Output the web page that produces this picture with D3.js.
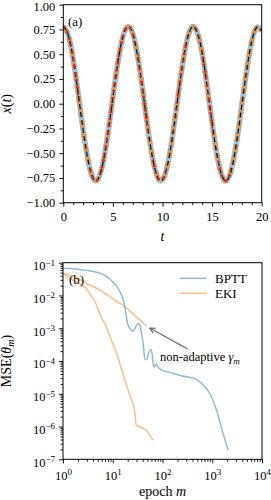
<!DOCTYPE html>
<html>
<head>
<meta charset="utf-8">
<script src="https://cdn.jsdelivr.net/npm/d3@7"></script>
<style>
  body { margin: 0; background: #fff; }
  svg { display: block; }
  text { font-family: "Liberation Serif", "DejaVu Serif", serif; fill: #000; }
</style>
</head>
<body>
<svg id="chart" width="271" height="500"></svg>
<script>
// ---- panel (a): trajectory, sampled every 0.5 in t ----
var tVals = [0,0.5,1,1.5,2,2.5,3,3.5,4,4.5,5,5.5,6,6.5,7,7.5,8,8.5,9,9.5,10,
             10.5,11,11.5,12,12.5,13,13.5,14,14.5,15,15.5,16,16.5,17,17.5,18,18.5,19,19.5,20];
var xVals = [0.780,0.692,0.448,0.103,-0.266,-0.575,-0.753,-0.762,-0.599,-0.301,0.065,
             0.416,0.674,0.779,0.708,0.478,0.139,-0.231,-0.549,-0.742,-0.769,
             -0.623,-0.336,0.028,0.383,0.654,0.776,0.721,0.508,0.175,-0.195,
             -0.521,-0.730,-0.774,-0.644,-0.369,-0.010,0.348,0.632,0.771,0.733];
// time windows where the observations (red dots) are shown
var obsWindows = [[0,1.6],[2.7,7.2],[7.5,8.6],[9.0,10.3],[11.3,12.4],[13.9,15.1],[15.6,16.9]];
var yTicksA = [-1,-0.75,-0.5,-0.25,0,0.25,0.5,0.75,1];
var xTicksA = [0,5,10,15,20];

// ---- panel (b): training loss ----
var bpttEpoch = [1,1.5,2.5,4,5.5,7,8.5,10,12,14,16,17.6,19.8,22,24,26,29,32.6,35,38,41,44.6,48,53,58.6,
                 62,66,70,74,78,85,100,150,250,416,610,898,1218,1658,2090];
var bpttMse = [6.8e-2,6.6e-2,6.0e-2,5.4e-2,4.8e-2,4.0e-2,3.3e-2,2.6e-2,1.9e-2,1.3e-2,7.9e-3,4.2e-3,1.45e-3,
               1.0e-3,8.5e-4,8.3e-4,1.12e-3,1.4e-3,1.26e-3,7.1e-4,3.2e-4,1.1e-4,1.12e-4,1.8e-4,2.2e-4,
               1.6e-4,7.1e-5,6.6e-5,7.9e-5,7.1e-5,6.0e-5,5.2e-5,4.4e-5,3.5e-5,3.0e-5,2.1e-5,1.0e-5,
               3.2e-6,6.0e-7,1.9e-7];
var ekiEpoch = [1,1.3,2,2.8,3.5,4.4,5,6,7,8.1,9,10.2,11.5,12.9,14,15,16.3,17,19,21,24,26,28,29.3,
                33,40,48,55,60.5,65];
var ekiMse = [4.8e-2,3.5e-2,2.4e-2,1.8e-2,1.1e-2,6.6e-3,4.0e-3,2.0e-3,1.4e-3,7.9e-4,5.0e-4,3.2e-4,
              2.0e-4,1.26e-4,7.9e-5,5.4e-5,4.0e-5,2.8e-5,1.9e-5,1.1e-5,6.6e-6,4.5e-6,2.6e-6,1.15e-6,
              1.0e-6,8.9e-7,7.6e-7,5.6e-7,4.4e-7,3.9e-7];
var ekiFixEpoch = [1,1.5,2,3,5,8,12,19,30,48];
var ekiFixMse = [4.8e-2,4.0e-2,3.3e-2,2.3e-2,1.6e-2,1.0e-2,6.6e-3,4.1e-3,2.2e-3,1.17e-3];
var decadesX = [1,10,100,1000,10000];
var decadesY = [1e-7,1e-6,1e-5,1e-4,1e-3,1e-2,1e-1];

var svg = d3.select("#chart");
var blue = "#1f77b4", orange = "#ff7f0e";

// ================= panel (a) =================
var A = {left: 63.3, right: 261.7, top: 4.7, bottom: 202.7};
var xA = d3.scaleLinear().domain([0, 20]).range([A.left, A.right]);
var yA = d3.scaleLinear().domain([-1, 1]).range([A.bottom, A.top]);

var gA = svg.append("g");
var defs = gA.append("defs");
defs.append("clipPath").attr("id", "clipA")
  .append("rect").attr("x", A.left).attr("y", A.top)
  .attr("width", A.right - A.left).attr("height", A.bottom - A.top);

var traj = tVals.map(function(t, i) { return {t: t, x: xVals[i]}; });
var lineA = d3.line().x(function(d) { return xA(d.t); }).y(function(d) { return yA(d.x); })
  .curve(d3.curveNatural);
var plotA = gA.append("g").attr("clip-path", "url(#clipA)");
plotA.append("path").attr("d", lineA(traj)).attr("fill", "none")
  .attr("stroke", blue).attr("stroke-opacity", 0.45).attr("stroke-width", 5.5);
plotA.append("path").attr("d", lineA(traj)).attr("fill", "none")
  .attr("stroke", orange).attr("stroke-opacity", 0.6).attr("stroke-width", 4.5)
  .attr("stroke-dasharray", "9,3");
plotA.append("path").attr("d", lineA(traj)).attr("fill", "none")
  .attr("stroke", "#111").attr("stroke-width", 1.3).attr("stroke-dasharray", "5,3");

// red observation dots on the same curve, restricted to the windows
obsWindows.forEach(function(w, i) {
  defs.append("clipPath").attr("id", "clipW" + i)
    .append("rect").attr("x", xA(w[0])).attr("y", A.top - 5)
    .attr("width", xA(w[1]) - xA(w[0])).attr("height", A.bottom - A.top + 10);
  plotA.append("g").attr("clip-path", "url(#clipW" + i + ")")
    .append("path").attr("d", lineA(traj)).attr("fill", "none")
    .attr("stroke", "#d62728").attr("stroke-width", 2.8)
    .attr("stroke-linecap", "round").attr("stroke-dasharray", "0,7");
});

// axes (a)
function fmtA(d) { return (d < 0 ? "\u2212" : "") + Math.abs(d).toFixed(2); }
var yAxisA = gA.append("g").attr("transform", "translate(" + A.left + ",0)")
  .call(d3.axisLeft(yA).tickValues(yTicksA).tickFormat(fmtA).tickSize(4).tickPadding(4));
// top label sits against the edge, as in the original; nudge it down slightly
yAxisA.selectAll(".tick text").filter(function(d) { return d === 1; }).attr("dy", "0.45em");
gA.append("g").attr("transform", "translate(" + A.left + ",0)")
  .call(d3.axisLeft(yA).tickValues(d3.range(-0.875, 1, 0.25)).tickFormat("").tickSize(2.5));
gA.append("g").attr("transform", "translate(0," + A.bottom + ")")
  .call(d3.axisBottom(xA).tickValues(xTicksA).tickFormat(d3.format("d")).tickSize(4).tickPadding(5));
gA.append("g").attr("transform", "translate(0," + A.bottom + ")")
  .call(d3.axisBottom(xA).tickValues(d3.range(0, 21).filter(function(d) { return d % 5; }))
  .tickFormat("").tickSize(2.5));
gA.append("rect").attr("x", A.left).attr("y", A.top)
  .attr("width", A.right - A.left).attr("height", A.bottom - A.top)
  .attr("fill", "none").attr("stroke", "#000").attr("stroke-width", 1);

gA.append("text").attr("x", 68).attr("y", 26).attr("font-size", 13).text("(a)");
gA.append("text").attr("x", (A.left + A.right) / 2).attr("y", 241).attr("text-anchor", "middle")
  .attr("font-size", 14).attr("font-style", "italic").text("t");
var ylabA = gA.append("text").attr("transform", "translate(11," + ((A.top + A.bottom) / 2) + ") rotate(-90)")
  .attr("text-anchor", "middle").attr("font-size", 14);
ylabA.append("tspan").attr("font-style", "italic").text("x");
ylabA.append("tspan").text("(");
ylabA.append("tspan").attr("font-style", "italic").text("t");
ylabA.append("tspan").text(")");

// ================= panel (b) =================
var B = {left: 63, right: 262, top: 262.7, bottom: 459.3};
var xB = d3.scaleLog().domain([1, 1e4]).range([B.left, B.right]);
var yB = d3.scaleLog().domain([1e-7, 1e-1]).range([B.bottom, B.top]);
var gB = svg.append("g");

var lineB = d3.line().x(function(d) { return xB(d[0]); }).y(function(d) { return yB(d[1]); });
var bptt = bpttEpoch.map(function(m, i) { return [m, bpttMse[i]]; });
var eki = ekiEpoch.map(function(m, i) { return [m, ekiMse[i]]; });
var ekiFix = ekiFixEpoch.map(function(m, i) { return [m, ekiFixMse[i]]; });

gB.append("path").attr("d", lineB.curve(d3.curveMonotoneX)(bptt)).attr("fill", "none")
  .attr("stroke", blue).attr("stroke-opacity", 0.5).attr("stroke-width", 1.5);
gB.append("path").attr("d", lineB.curve(d3.curveLinear)(eki)).attr("fill", "none")
  .attr("stroke", orange).attr("stroke-opacity", 0.5).attr("stroke-width", 1.5);
gB.append("path").attr("d", lineB.curve(d3.curveMonotoneX)(ekiFix)).attr("fill", "none")
  .attr("stroke", orange).attr("stroke-opacity", 0.5).attr("stroke-width", 1.5);

function logLabel(sel) {
  sel.each(function(d) {
    var t = d3.select(this), e = Math.round(Math.log10(d));
    t.text(null);
    t.append("tspan").text("10");
    t.append("tspan").attr("dy", "-0.5em").attr("font-size", "0.72em")
      .text(e < 0 ? "\u2212" + (-e) : e);
  });
}
var minorX = xB.ticks().filter(function(d) { return decadesX.indexOf(d) < 0; });
var minorY = yB.ticks().filter(function(d) { return decadesY.indexOf(d) < 0; });

var yAxisB = gB.append("g").attr("transform", "translate(" + B.left + ",0)")
  .call(d3.axisLeft(yB).tickValues(decadesY).tickSize(4).tickPadding(4));
yAxisB.selectAll(".tick text").call(logLabel).attr("dy", "0.55em");
gB.append("g").attr("transform", "translate(" + B.left + ",0)")
  .call(d3.axisLeft(yB).tickValues(minorY).tickFormat("").tickSize(2.5));
var xAxisB = gB.append("g").attr("transform", "translate(0," + B.bottom + ")")
  .call(d3.axisBottom(xB).tickValues(decadesX).tickSize(4).tickPadding(5));
xAxisB.selectAll(".tick text").call(logLabel).attr("dy", "0.92em");
gB.append("g").attr("transform", "translate(0," + B.bottom + ")")
  .call(d3.axisBottom(xB).tickValues(minorX).tickFormat("").tickSize(2.5));
gB.append("rect").attr("x", B.left).attr("y", B.top)
  .attr("width", B.right - B.left).attr("height", B.bottom - B.top)
  .attr("fill", "none").attr("stroke", "#000").attr("stroke-width", 1);

svg.selectAll(".tick text").attr("font-size", 12.5).attr("fill", "#000");
svg.selectAll(".domain").remove();
svg.selectAll(".tick line").attr("stroke", "#000").attr("stroke-width", 0.9);

// legend
var legend = [["BPTT", blue], ["EKI", orange]];
legend.forEach(function(l, i) {
  var y = 278.3 + i * 15;
  gB.append("line").attr("x1", 180).attr("x2", 206.7).attr("y1", y).attr("y2", y)
    .attr("stroke", l[1]).attr("stroke-opacity", 0.5).attr("stroke-width", 1.5);
  gB.append("text").attr("x", 215).attr("y", y + 4.5).attr("font-size", 13).text(l[0]);
});

gB.append("text").attr("x", 69).attr("y", 284).attr("font-size", 13).text("(b)");

// annotation: end of the non-adaptive EKI run
var last = ekiFix[ekiFix.length - 1];
var ax = xB(last[0]) + 3, ay = yB(last[1]) + 2;
var tx = ax + 38, ty = ay + 21;
gB.append("line").attr("x1", tx).attr("y1", ty).attr("x2", ax).attr("y2", ay)
  .attr("stroke", "#666").attr("stroke-width", 1.2);
var ang = Math.atan2(ay - ty, ax - tx);
[0.45, -0.45].forEach(function(da) {
  gB.append("line").attr("x1", ax).attr("y1", ay)
    .attr("x2", ax - 6 * Math.cos(ang + da)).attr("y2", ay - 6 * Math.sin(ang + da))
    .attr("stroke", "#666").attr("stroke-width", 1.2);
});
var ann = gB.append("text").attr("x", 160).attr("y", 361).attr("font-size", 12.5);
ann.append("tspan").text("non-adaptive ");
ann.append("tspan").attr("font-style", "italic").text("\u03b3");
ann.append("tspan").attr("font-style", "italic").attr("font-size", "0.72em").attr("dy", "0.3em").text("m");

gB.append("text").attr("x", (B.left + B.right) / 2).attr("y", 496).attr("text-anchor", "middle")
  .attr("font-size", 14)
  .call(function(t) {
    t.append("tspan").text("epoch ");
    t.append("tspan").attr("font-style", "italic").text("m");
  });
var ylabB = gB.append("text").attr("transform", "translate(11," + ((B.top + B.bottom) / 2) + ") rotate(-90)")
  .attr("text-anchor", "middle").attr("font-size", 14);
ylabB.append("tspan").text("MSE(");
ylabB.append("tspan").attr("font-style", "italic").text("\u03b8");
ylabB.append("tspan").attr("font-style", "italic").attr("font-size", "0.72em").attr("dy", "0.3em").text("m");
ylabB.append("tspan").attr("dy", "-0.22em").text(")");
</script>
</body>
</html>
